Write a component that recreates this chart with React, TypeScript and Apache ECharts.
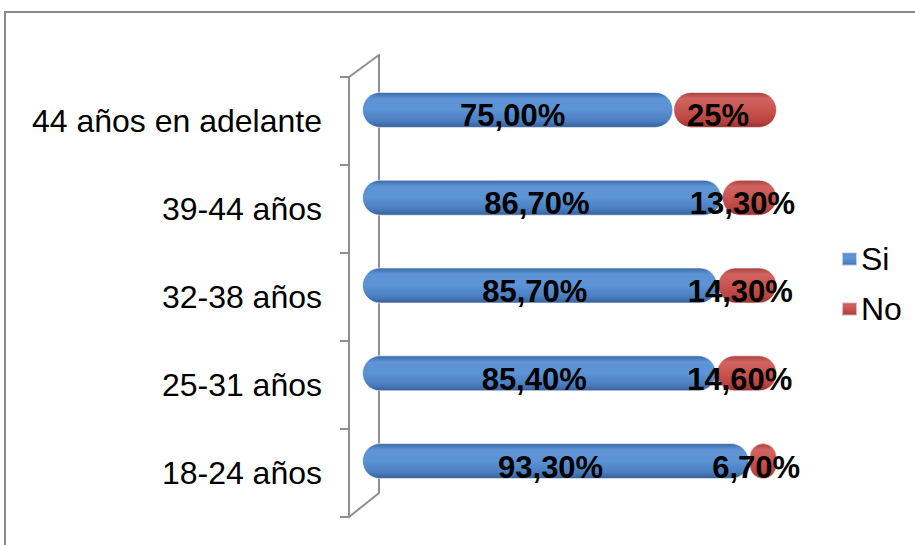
import React, { useEffect, useRef } from "react";
import * as echarts from "echarts";

const categories = ["18-24 años", "25-31 años", "32-38 años", "39-44 años", "44 años en adelante"];
const siValues = [93.3, 85.4, 85.7, 86.7, 75.0];
const noValues = [6.7, 14.6, 14.3, 13.3, 25.0];
const siLabels = ["93,30%", "85,40%", "85,70%", "86,70%", "75,00%"];
const noLabels = ["6,70%", "14,60%", "14,30%", "13,30%", "25%"];
const seriesNames = ["Si", "No"];

const gray = "#8e8e8e";
const FONT = "Liberation Sans, Arial, sans-serif";

function cyl(top: string, light: string, mid: string, dark: string, bottom: string) {
  return new echarts.graphic.LinearGradient(0, 0, 0, 1, [
    { offset: 0, color: top },
    { offset: 0.18, color: light },
    { offset: 0.5, color: mid },
    { offset: 0.82, color: dark },
    { offset: 1, color: bottom },
  ]);
}

export default function App() {
  const ref = useRef<HTMLDivElement>(null);
  useEffect(() => {
    if (!ref.current) return;
    const chart = echarts.init(ref.current, null, { renderer: "svg" });
    const labelFont = {
      fontFamily: FONT,
      fontSize: 31,
      fontWeight: "bold" as const,
      color: "#000",
    };
    chart.setOption({
      animation: false,
      backgroundColor: "#fff",
      grid: [
        { left: 362, right: 138, top: 66, bottom: 40 },
        { left: 349, right: 138, top: 77, bottom: 28 },
        { left: 379, right: 138, top: 55, bottom: 52 },
      ],
      xAxis: [
        { gridIndex: 0, type: "value", min: 0, max: 100, show: false },
        { gridIndex: 1, type: "value", min: 0, max: 100, show: false },
        { gridIndex: 2, type: "value", min: 0, max: 100, show: false },
      ],
      yAxis: [
        { gridIndex: 0, type: "category", data: categories, show: false },
        {
          gridIndex: 1,
          type: "category",
          data: categories,
          axisLine: { show: true, lineStyle: { color: gray, width: 2 } },
          axisTick: { show: true, length: 9, lineStyle: { color: gray, width: 2 } },
          axisLabel: {
            margin: 27,
            fontFamily: FONT,
            fontSize: 32,
            color: "#000",
          },
          splitLine: { show: false },
        },
        {
          gridIndex: 2,
          type: "category",
          data: categories,
          axisLine: { show: true, lineStyle: { color: gray, width: 2 } },
          axisTick: { show: false },
          axisLabel: { show: false },
        },
      ],
      legend: {
        orient: "vertical",
        left: 841,
        top: 243,
        padding: 0,
        itemWidth: 15,
        itemHeight: 13,
        itemGap: 18,
        icon: "rect",
        data: seriesNames,
        textStyle: {
          fontFamily: FONT,
          fontSize: 32,
          color: "#000",
          padding: [0, 0, 0, -1],
        },
      },
      series: [
        {
          name: seriesNames[0],
          type: "bar",
          stack: "total",
          xAxisIndex: 0,
          yAxisIndex: 0,
          barWidth: 36,
          data: siValues,
          itemStyle: {
            color: cyl("#3a6aa8", "#5d94d6", "#5b93d5", "#4a7ec0", "#365f98"),
            borderRadius: 18,
            borderColor: "rgba(255,255,255,0.6)",
            borderWidth: 1,
          },
          label: {
            show: true,
            position: "inside",
            offset: [-5, 6],
            formatter: (p: any) => siLabels[p.dataIndex],
            ...labelFont,
          },
        },
        {
          name: seriesNames[1],
          type: "bar",
          stack: "total",
          xAxisIndex: 0,
          yAxisIndex: 0,
          barWidth: 36,
          data: noValues,
          itemStyle: {
            color: cyl("#a8403d", "#d06461", "#c9544f", "#b8433f", "#98312f"),
            borderRadius: 18,
            borderColor: "rgba(255,255,255,0.6)",
            borderWidth: 1,
          },
          label: {
            show: true,
            position: "inside",
            offset: [-7, 6],
            formatter: (p: any) => noLabels[p.dataIndex],
            ...labelFont,
          },
        },
      ],
      graphic: [
        {
          type: "rect",
          shape: { x: 5, y: 12, width: 1000, height: 1000 },
          style: { fill: "none", stroke: "#888", lineWidth: 2 },
          silent: true,
        },
        {
          type: "line",
          shape: { x1: 349, y1: 77, x2: 379, y2: 55 },
          style: { stroke: gray, lineWidth: 2 },
          silent: true,
        },
        {
          type: "line",
          shape: { x1: 349, y1: 517, x2: 379, y2: 493 },
          style: { stroke: gray, lineWidth: 2 },
          silent: true,
        },
      ],
    });
    return () => chart.dispose();
  }, []);
  return (
    <div
      ref={ref}
      style={{ position: "fixed", left: 0, top: 0, width: 915, height: 545 }}
    />
  );
}
